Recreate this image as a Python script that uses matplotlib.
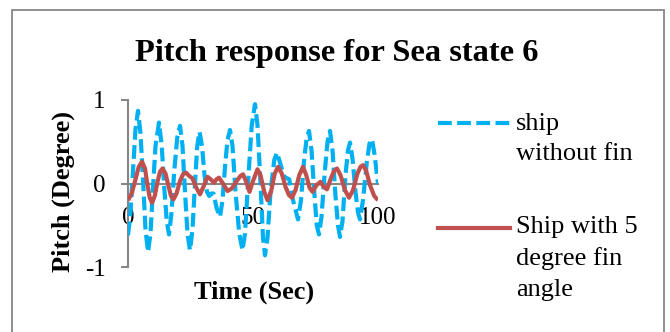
import matplotlib
matplotlib.use("Agg")
import matplotlib.pyplot as plt
from matplotlib.lines import Line2D
from matplotlib.patches import Rectangle

# ---- data ----
t_nofin = [0, 1, 2, 3, 4, 5, 6, 7, 8, 9, 10, 11, 12.4, 13.5, 14.5, 15.5, 16.4,
           17.4, 18.5, 19.7, 20.8, 21.8, 22.8, 23.8, 24.8, 25.8, 26.8, 27.7,
           28.6, 29.6, 30.6, 31.6, 32.5, 33.4, 34.2, 35.5, 36.8, 37.8, 38.8,
           39.8, 40.8, 41.8, 43, 44.5, 45.8, 46.8, 48, 49.5, 50.8, 51.8, 53, 54,
           54.8, 55.8, 57, 58.5, 59.6, 60.8, 62.5, 64.5, 66, 68, 69.2, 70.5,
           71.5, 72.4, 73.4, 74.5, 75.5, 76.4, 77.4, 78.6, 79.8, 80.8, 81.8, 83,
           84, 84.8, 85.8, 87, 88, 88.8, 89.8, 91, 92, 92.8, 94, 95.5, 96.6,
           97.6, 98.6, 100]
pitch_nofin = [-0.62, -0.35, 0.15, 0.65, 0.87, 0.60, 0.05, -0.55, -0.82, -0.60,
               -0.05, 0.45, 0.73, 0.45, -0.05, -0.45, -0.61, -0.35, 0.15, 0.55,
               0.69, 0.45, -0.10, -0.60, -0.80, -0.55, 0.0, 0.45, 0.62, 0.45,
               0.10, -0.10, -0.15, -0.12, -0.12, -0.30, -0.40, -0.20, 0.20, 0.52,
               0.64, 0.45, -0.10, -0.60, -0.80, -0.60, 0.0, 0.70, 0.95, 0.70,
               0.0, -0.65, -0.86, -0.65, -0.10, 0.28, 0.37, 0.25, 0.08, 0.05,
               -0.20, -0.43, -0.20, 0.30, 0.55, 0.63, 0.40, -0.10, -0.50, -0.61,
               -0.40, 0.10, 0.50, 0.63, 0.40, -0.15, -0.50, -0.64, -0.45, 0.10,
               0.40, 0.49, 0.30, -0.10, -0.35, -0.43, -0.20, 0.25, 0.48, 0.53,
               0.35, 0.0]

t_fin = [0, 1.5, 3, 4.3, 5.6, 6.8, 7.8, 8.7, 9.6, 10.7, 11.8, 12.8, 13.8, 15,
         16.2, 17.2, 18.2, 19.4, 20.8, 22, 23.2, 24.5, 25.8, 27.3, 28.8, 30.3,
         31.8, 33.1, 34.4, 35.4, 36.4, 38, 39.8, 41.5, 43.5, 45, 46, 47.3, 48.6,
         50, 51.8, 53, 54.5, 55.8, 57.2, 58.7, 60, 61.5, 63, 64.4, 65.6, 67,
         68.5, 70, 71.3, 72.6, 73.8, 75.4, 77, 78.3, 79.6, 81, 82.4, 83.6, 85,
         86.8, 88.4, 90, 91.8, 93, 94, 95.3, 96.8, 98.5, 100]
pitch_fin = [-0.20, -0.12, 0.05, 0.20, 0.26, 0.18, -0.02, -0.17, -0.23, -0.15,
             0.02, 0.14, 0.18, 0.12, -0.03, -0.15, -0.19, -0.12, 0.03, 0.11,
             0.13, 0.09, 0.06, -0.05, -0.13, -0.03, 0.08, 0.05, 0.01, 0.05,
             0.07, 0.0, -0.09, -0.06, 0.03, 0.09, 0.11, 0.02, -0.10, 0.03, 0.17,
             0.10, -0.10, -0.20, -0.10, 0.12, 0.20, 0.12, -0.04, -0.14, -0.17,
             -0.08, 0.10, 0.20, 0.10, -0.05, -0.10, -0.02, 0.02, -0.04, -0.07,
             0.05, 0.15, 0.18, 0.10, -0.08, -0.17, -0.08, 0.12, 0.20, 0.22,
             0.15, -0.02, -0.15, -0.20]

series_names = ["ship\nwithout fin", "Ship with 5\ndegree fin\nangle"]
x_ticks = [0, 50, 100]
y_ticks = [-1, 0, 1]
title_text = "Pitch response for Sea state 6"
x_label = "Time (Sec)"
y_label = "Pitch (Degree)"

BLUE = "#00B0F0"
RED = "#C0504D"
GRAY = "#868686"
LW = 3.0

plt.rcParams["font.family"] = ["Liberation Serif", "DejaVu Serif"]

W, H = 670, 332
fig = plt.figure(figsize=(W / 100, H / 100), dpi=100)

def fx(px):
    return px / W

def fy(py):
    return 1 - py / H

# outer chart border
fig.add_artist(Rectangle((fx(12), fy(345)), fx(664) - fx(12), fy(10) - fy(345),
                         transform=fig.transFigure, fill=False,
                         edgecolor=GRAY, linewidth=1.3))

ax = fig.add_axes([fx(128), fy(267), fx(378) - fx(128), fy(100) - fy(267)])
ax.set_xlim(0, 100)
ax.set_ylim(-1, 1)
ax.patch.set_alpha(0)

ax.plot(t_nofin, pitch_nofin, color=BLUE, lw=LW, dashes=(3.3, 1.3),
        dash_joinstyle="round", dash_capstyle="butt", zorder=3)
ax.plot(t_fin, pitch_fin, color=RED, lw=LW, solid_joinstyle="round",
        solid_capstyle="butt", zorder=4)

for s in ["top", "right"]:
    ax.spines[s].set_visible(False)
ax.spines["left"].set_color(GRAY)
ax.spines["left"].set_linewidth(1.5)
ax.spines["bottom"].set_position(("data", 0))
ax.spines["bottom"].set_color(GRAY)
ax.spines["bottom"].set_linewidth(1.5)
ax.spines["bottom"].set_zorder(1)

ax.set_yticks(y_ticks)
ax.set_yticklabels([str(v) for v in y_ticks])
ax.set_xticks(x_ticks)
ax.set_xticklabels([str(v) for v in x_ticks])
ax.tick_params(axis="y", direction="out", length=5, width=1.5, color=GRAY,
               labelsize=18, pad=11)
ax.tick_params(axis="x", length=0, labelsize=18, pad=17)

fig.text(fx(337), fy(54), title_text, ha="center", va="center",
         fontsize=23.3, fontweight="bold")
fig.text(fx(254), fy(292), x_label, ha="center", va="center",
         fontsize=19, fontweight="bold")
fig.text(fx(63), fy(191), y_label, ha="center", va="center",
         fontsize=19, fontweight="bold", rotation=90)

# legend (manual to keep the marker aligned with first text line)
fig.add_artist(Line2D([fx(438), fx(510)], [fy(123), fy(123)],
                      transform=fig.transFigure, color=BLUE, lw=LW,
                      dashes=(3.3, 1.3)))
fig.add_artist(Line2D([fx(438), fx(510)], [fy(228), fy(228)],
                      transform=fig.transFigure, color=RED, lw=LW))
fig.text(fx(516), fy(139), series_names[0], ha="left", va="center",
         fontsize=19, linespacing=1.5)
fig.text(fx(516), fy(258.5), series_names[1], ha="left", va="center",
         fontsize=19, linespacing=1.5)

fig.savefig("out.png", dpi=100)
